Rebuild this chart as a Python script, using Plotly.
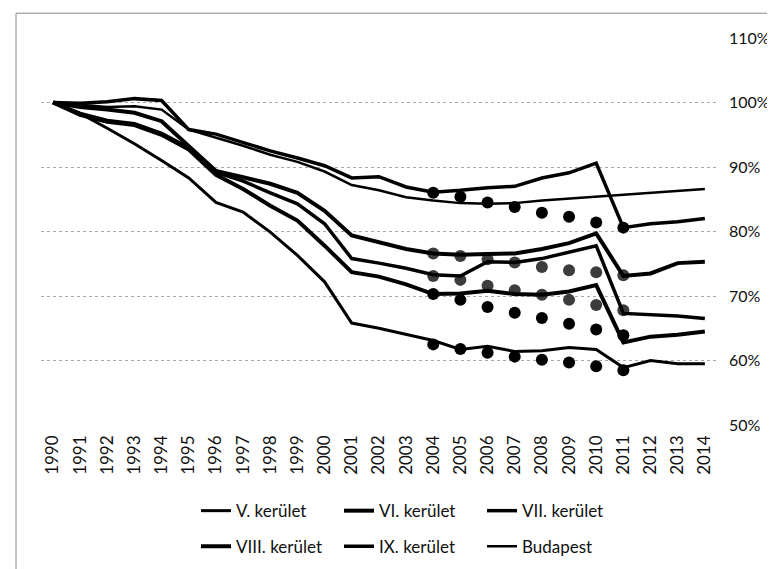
import plotly.graph_objects as go

years = list(range(1990, 2015))
year_labels = [str(y) for y in years]

# index values, 1990 = 100%
kerulet_V = [100, 98.3, 96.0, 93.6, 91.0, 88.3, 84.5, 83.0, 79.9, 76.3, 72.2, 65.8, 65.0, 64.0,
             63.1, 61.7, 62.2, 61.4, 61.5, 62.0, 61.7, 58.9, 60.0, 59.5, 59.5]
kerulet_VI = [100, 98.1, 97.0, 96.5, 95.0, 92.7, 88.8, 86.6, 84.0, 81.7, 77.8, 73.7, 73.0, 71.8,
              70.3, 70.4, 70.8, 70.3, 70.2, 70.7, 71.7, 62.8, 63.7, 64.0, 64.5]
kerulet_VII = [100, 98.3, 97.2, 96.7, 95.2, 93.0, 89.2, 87.8, 86.0, 84.3, 81.2, 75.8, 75.1, 74.3,
               73.3, 73.1, 75.3, 75.2, 75.8, 76.8, 77.8, 67.3, 67.1, 66.9, 66.5]
kerulet_VIII = [100, 99.3, 98.9, 98.4, 97.1, 93.3, 89.4, 88.4, 87.4, 86.0, 83.2, 79.4, 78.3, 77.3,
                76.6, 76.4, 76.5, 76.6, 77.3, 78.2, 79.7, 73.1, 73.5, 75.1, 75.3]
kerulet_IX = [100, 99.9, 100.1, 100.6, 100.3, 95.8, 95.1, 93.8, 92.5, 91.4, 90.2, 88.3, 88.5, 86.9,
              86.1, 86.4, 86.8, 87.0, 88.3, 89.1, 90.6, 80.6, 81.2, 81.5, 82.0]
budapest = [100, 99.6, 99.3, 99.4, 98.9, 95.8, 94.6, 93.3, 91.9, 90.8, 89.3, 87.2, 86.4, 85.3,
            84.8, 84.4, 84.3, 84.4, 84.8, 85.1, 85.4, 85.7, 85.9, 86.2, 86.6]

# corrected (dotted) estimates 2004-2011
dot_years = list(range(2004, 2012))
dots_IX = [86.0, 85.4, 84.5, 83.8, 82.9, 82.3, 81.4, 80.6]
dots_VIII = [76.6, 76.2, 75.7, 75.2, 74.5, 74.0, 73.7, 73.2]
dots_VII = [73.1, 72.5, 71.6, 70.9, 70.2, 69.4, 68.6, 67.8]
dots_VI = [70.3, 69.4, 68.3, 67.4, 66.6, 65.7, 64.8, 63.9]
dots_V = [62.5, 61.8, 61.2, 60.6, 60.1, 59.7, 59.1, 58.5]

y_ticks = [50, 60, 70, 80, 90, 100, 110]
y_tick_labels = ["50%", "60%", "70%", "80%", "90%", "100%", "110%"]

FONT = "Lato"
fig = go.Figure()

# dotted estimate series (drawn first, under the lines)
for vals, col in [(dots_IX, "#000000"), (dots_VIII, "#3c3c3c"), (dots_VII, "#3c3c3c"),
                  (dots_VI, "#000000"), (dots_V, "#000000")]:
    fig.add_trace(go.Scatter(x=dot_years, y=vals, mode="markers", showlegend=False,
                             marker=dict(size=12, color=col, line=dict(width=0))))

series = [
    ("V. kerület", kerulet_V, 3, "legend"),
    ("VI. kerület", kerulet_VI, 4, "legend"),
    ("VII. kerület", kerulet_VII, 3.5, "legend"),
    ("VIII. kerület", kerulet_VIII, 4, "legend2"),
    ("IX. kerület", kerulet_IX, 3.5, "legend2"),
    ("Budapest", budapest, 2.5, "legend2"),
]
for name, vals, w, lg in series:
    fig.add_trace(go.Scatter(x=years, y=vals, mode="lines", name=name, legend=lg,
                             line=dict(color="#000000", width=w)))

legend_common = dict(orientation="h", xanchor="left", yanchor="middle",
                     entrywidth=98, entrywidthmode="pixels",
                     font=dict(family=FONT, size=17, color="#111"),
                     bgcolor="rgba(0,0,0,0)", itemwidth=30)

fig.update_layout(
    width=775, height=569,
    margin=dict(l=33, r=67, t=30, b=148),
    paper_bgcolor="white", plot_bgcolor="white",
    font=dict(family=FONT, size=16, color="#111"),
    legend=dict(x=(188 - 33) / 675, y=(421 - 508) / 391, **legend_common),
    legend2=dict(x=(188 - 33) / 675, y=(421 - 544) / 391, **legend_common),
    xaxis=dict(range=[1989.56, 2014.41], tickmode="array", tickvals=years, ticktext=year_labels,
               tickangle=-90, showgrid=False, showline=False, zeroline=False, ticks="",
               ticklabelstandoff=6, tickfont=dict(family=FONT, size=17, color="#111")),
    yaxis=dict(range=[50, 110], side="right", tickmode="array", tickvals=y_ticks,
               ticktext=y_tick_labels, showgrid=True, gridcolor="#a8a8a8", griddash="dot",
               gridwidth=1, showline=False, zeroline=False, ticks="", ticklabelstandoff=12,
               tickfont=dict(family=FONT, size=16, color="#111")),
    shapes=[dict(type="rect", xref="paper", yref="paper", x0=-0.037, x1=1.2, y0=-0.6, y1=1.064,
                 line=dict(color="#8a8a8a", width=1), fillcolor="rgba(0,0,0,0)", layer="below")],
)

fig.write_html("out.html")
